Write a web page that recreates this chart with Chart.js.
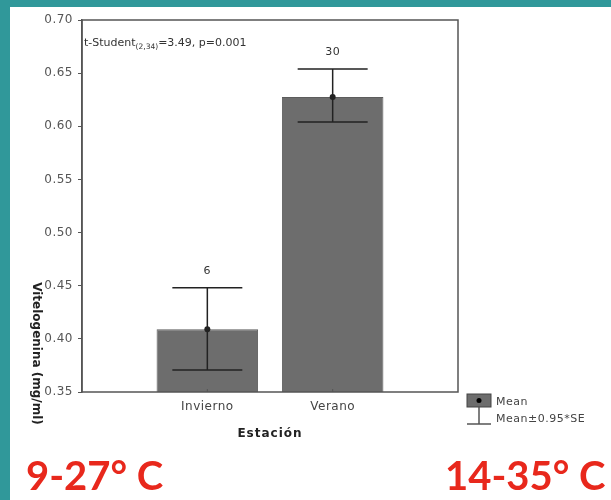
<!DOCTYPE html>
<html lang="es">
<head>
    <meta charset="UTF-8">
    <title>Vitelogenina por estación</title>
    <script src="https://cdn.jsdelivr.net/npm/chart.js"></script>
    <style>
        * {
            margin: 0;
            padding: 0;
            box-sizing: border-box;
        }

        body {
            width: 611px;
            height: 500px;
            background-color: #30989a;
            position: relative;
            overflow: hidden;
        }

        #panel {
            position: absolute;
            left: 10px;
            top: 7px;
            right: 0;
            bottom: 0;
            background-color: #ffffff;
        }

        #chart {
            position: absolute;
            left: 0;
            top: 0;
        }

        .temp {
            position: absolute;
            top: 455px;
            font-family: 'Lato', sans-serif;
            font-weight: bold;
            font-size: 40px;
            line-height: 40px;
            color: #e8281c;
            white-space: nowrap;
        }
    </style>
</head>

<body>
    <div id="panel"></div>
    <canvas id="chart" width="611" height="500"></canvas>
    <div class="temp" style="left: 26px;">9-27° C</div>
    <div class="temp" style="left: 445px;">14-35° C</div>

    <script>
        // values
        const categories = ['Invierno', 'Verano'];
        const means = [0.409, 0.6276];
        const lowerCI = [0.3707, 0.604];
        const upperCI = [0.448, 0.6539];
        const counts = [6, 30];
        const yTicks = [0.35, 0.40, 0.45, 0.50, 0.55, 0.60, 0.65, 0.70];

        // empty slots at both ends so the two bars sit where they do in the original
        const labels = ['', ...categories, ''];
        const barData = [null, ...means, null];

        const ink = '#222';
        const grey = '#555';

        const decor = {
            id: 'decor',
            beforeDraw(chart) {
                chart.ctx.letterSpacing = '0.5px';
            },
            afterDatasetsDraw(chart) {
                const { ctx, chartArea: a, scales: { x, y } } = chart;
                ctx.save();

                // plot frame
                ctx.strokeStyle = grey;
                ctx.lineWidth = 1.5;
                ctx.strokeRect(a.left, a.top, a.right - a.left, a.bottom - a.top);

                // small inner ticks on the category axis
                ctx.lineWidth = 1;
                categories.forEach((c, i) => {
                    const px = x.getPixelForValue(i + 1);
                    ctx.beginPath();
                    ctx.moveTo(px, a.bottom);
                    ctx.lineTo(px, a.bottom - 3);
                    ctx.stroke();
                });

                // error bars, mean points, n labels
                ctx.strokeStyle = ink;
                ctx.fillStyle = ink;
                ctx.lineWidth = 1.5;
                ctx.font = '11px "DejaVu Sans"';
                ctx.textAlign = 'center';
                ctx.textBaseline = 'middle';
                categories.forEach((c, i) => {
                    const px = x.getPixelForValue(i + 1);
                    const yHi = y.getPixelForValue(upperCI[i]);
                    const yLo = y.getPixelForValue(lowerCI[i]);
                    const yM = y.getPixelForValue(means[i]);
                    const cap = 35;
                    ctx.beginPath();
                    ctx.moveTo(px, yHi);
                    ctx.lineTo(px, yLo);
                    ctx.moveTo(px - cap, yHi);
                    ctx.lineTo(px + cap, yHi);
                    ctx.moveTo(px - cap, yLo);
                    ctx.lineTo(px + cap, yLo);
                    ctx.stroke();
                    ctx.beginPath();
                    ctx.arc(px, yM, 3, 0, Math.PI * 2);
                    ctx.fill();
                    ctx.fillStyle = '#333';
                    ctx.fillText(String(counts[i]), px, yHi - 17);
                    ctx.fillStyle = ink;
                });

                // test annotation
                ctx.textAlign = 'left';
                ctx.textBaseline = 'alphabetic';
                ctx.fillStyle = '#333';
                ctx.letterSpacing = '0px';
                let tx = a.left + 2;
                const base = a.top + 26;
                ctx.font = '11px "DejaVu Sans"';
                ctx.fillText('t-Student', tx, base);
                tx += ctx.measureText('t-Student').width;
                ctx.font = '7.5px "DejaVu Sans"';
                ctx.fillText('(2,34)', tx, base + 3);
                tx += ctx.measureText('(2,34)').width;
                ctx.font = '11px "DejaVu Sans"';
                ctx.fillText('=3.49, p=0.001', tx, base);

                // axis titles
                ctx.fillStyle = ink;
                ctx.textAlign = 'center';
                ctx.textBaseline = 'middle';
                ctx.letterSpacing = '1px';
                ctx.font = 'bold 12px "DejaVu Sans"';
                ctx.fillText('Estación', (a.left + a.right) / 2, 434);

                ctx.save();
                ctx.letterSpacing = '0px';
                ctx.translate(36.5, 353.5);
                ctx.rotate(Math.PI / 2);
                ctx.fillText('Vitelogenina (mg/ml)', 0, 0);
                ctx.restore();

                // legend
                const lx = a.right + 9;
                const ly = a.bottom + 2;
                ctx.fillStyle = '#6d6d6d';
                ctx.fillRect(lx, ly, 24, 13);
                ctx.strokeStyle = '#444';
                ctx.lineWidth = 1;
                ctx.strokeRect(lx, ly, 24, 13);
                ctx.fillStyle = '#000';
                ctx.beginPath();
                ctx.arc(lx + 12, ly + 6.5, 2.5, 0, Math.PI * 2);
                ctx.fill();
                ctx.strokeStyle = '#555';
                ctx.lineWidth = 1.5;
                ctx.beginPath();
                ctx.moveTo(lx + 12, ly + 13);
                ctx.lineTo(lx + 12, ly + 30);
                ctx.moveTo(lx, ly + 30);
                ctx.lineTo(lx + 24, ly + 30);
                ctx.stroke();

                ctx.fillStyle = '#444';
                ctx.textAlign = 'left';
                ctx.letterSpacing = '0.5px';
                ctx.font = '11px "DejaVu Sans"';
                ctx.fillText('Mean', lx + 29, ly + 8);
                ctx.fillText('Mean±0.95*SE', lx + 29, ly + 25);

                ctx.restore();
            }
        };

        new Chart(document.getElementById('chart'), {
            type: 'bar',
            data: {
                labels: labels,
                datasets: [{
                    data: barData,
                    backgroundColor: '#6d6d6d',
                    borderColor: '#5c5c5c',
                    borderWidth: 1,
                    categoryPercentage: 1,
                    barPercentage: 0.81
                }]
            },
            options: {
                responsive: false,
                devicePixelRatio: 1,
                animation: false,
                layout: {
                    padding: { top: 20, right: 153, bottom: 0, left: 0 }
                },
                plugins: {
                    legend: { display: false },
                    tooltip: { enabled: false }
                },
                scales: {
                    x: {
                        offset: false,
                        grid: { display: false, drawTicks: false },
                        border: { display: false },
                        ticks: {
                            autoSkip: false,
                            maxRotation: 0,
                            padding: 8,
                            color: '#444',
                            font: { family: 'DejaVu Sans', size: 12 }
                        },
                        afterFit: s => { s.height = 108; }
                    },
                    y: {
                        min: yTicks[0],
                        max: yTicks[yTicks.length - 1],
                        afterBuildTicks: s => { s.ticks = yTicks.map(v => ({ value: v })); },
                        grid: { drawOnChartArea: false, tickLength: 4, color: grey },
                        border: { display: true, color: grey, width: 1.5 },
                        ticks: {
                            padding: 5,
                            color: '#555',
                            font: { family: 'DejaVu Sans', size: 12 },
                            callback: v => v.toFixed(2)
                        },
                        afterFit: s => { s.width = 82; }
                    }
                }
            },
            plugins: [decor]
        });
    </script>
</body>
</html>
